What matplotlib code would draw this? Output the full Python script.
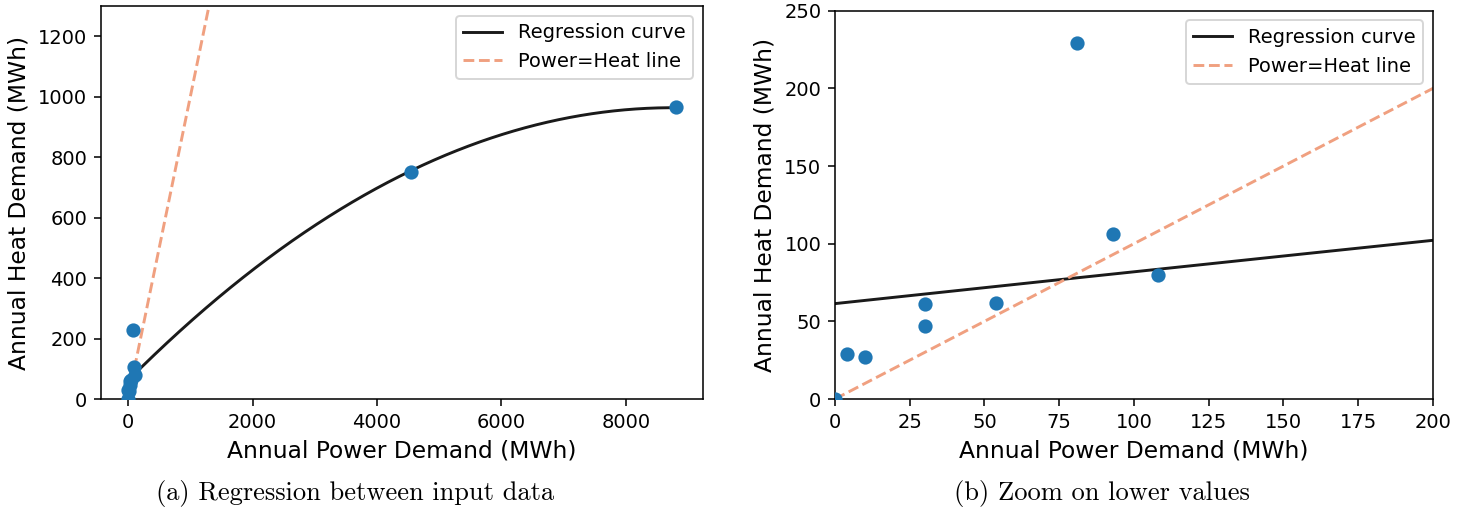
import numpy as np
import matplotlib
matplotlib.use("Agg")
import matplotlib.pyplot as plt

# Annual demand per building (MWh)
power_demand = [0, 4, 10, 30, 30, 54, 81, 93, 108, 4550, 8800]
heat_demand = [0, 29, 27, 61, 47, 62, 229, 106, 80, 750, 965]

regression_degree = 2
captions = ["(a) Regression between input data", "(b) Zoom on lower values"]
x_label = "Annual Power Demand (MWh)"
y_label = "Annual Heat Demand (MWh)"

x = np.array(power_demand, dtype=float)
y = np.array(heat_demand, dtype=float)
coeffs = np.polyfit(x, y, regression_degree)
x_fit = np.linspace(0, x.max(), 20000)
y_fit = np.polyval(coeffs, x_fit)

DPI = 140
fig = plt.figure(figsize=(1464 / DPI, 517 / DPI), dpi=DPI)

ax1 = fig.add_axes([0.0688, 0.2282, 0.4114, 0.7602])
ax2 = fig.add_axes([0.5703, 0.2282, 0.4085, 0.7511])

line_color = "#1a1a1a"
eq_color = "#f0a080"

for ax in (ax1, ax2):
    ax.scatter(x, y, color="#1f77b4", s=40, zorder=3)
    ax.plot(x_fit, y_fit, color=line_color, lw=1.5, label="Regression curve")
    ax.plot([0, x.max()], [0, x.max()], ls="--", color=eq_color, lw=1.5,
            label="Power=Heat line")
    ax.set_xlabel(x_label, fontsize=12)
    ax.set_ylabel(y_label, fontsize=12)
    ax.legend(loc="upper right", fontsize=10)

ax1.set_ylim(0, 1300)
ax1.set_xticks([0, 2000, 4000, 6000, 8000])

ax2.set_xlim(0, 200)
ax2.set_ylim(0, 250)
ax2.set_xticks(np.arange(0, 201, 25))

fig.text(0.2425, 0.045, captions[0], ha="center", va="center",
         fontfamily="cmr10", fontsize=13.6)
fig.text(0.7527, 0.045, captions[1], ha="center", va="center",
         fontfamily="cmr10", fontsize=13.6)

fig.savefig("out.png", dpi=DPI)
